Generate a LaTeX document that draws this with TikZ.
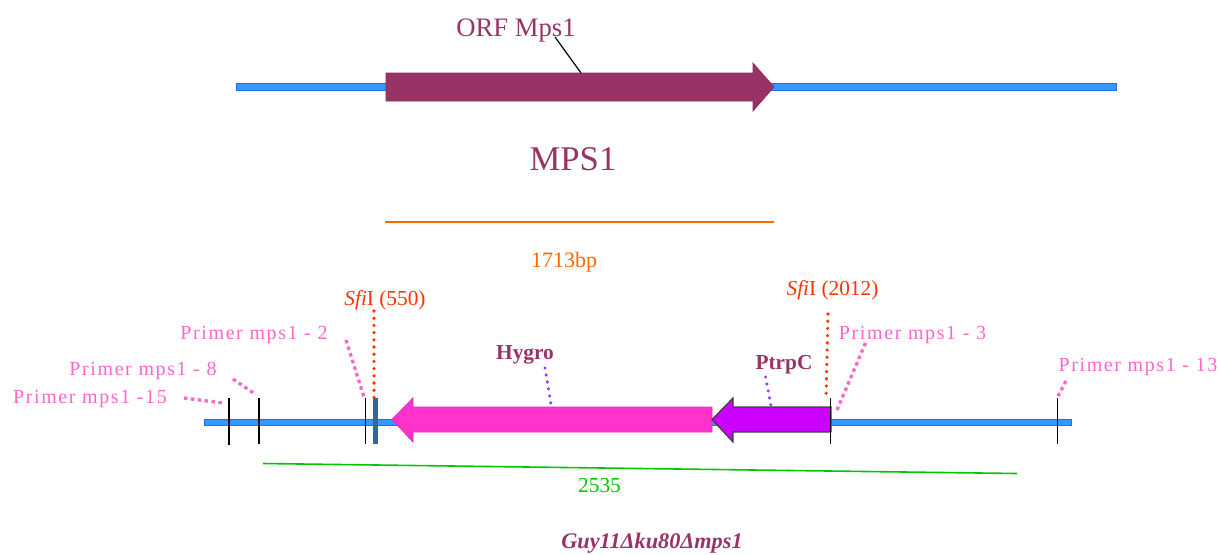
\documentclass[tikz,border=0pt]{standalone}
\usepackage{fontspec}
\usepackage{tikz}
\setmainfont{Liberation Serif}
\newfontfamily\spacedfont[LetterSpace=8]{Liberation Serif}
\definecolor{orfred}{HTML}{993366}
\definecolor{seqblue}{HTML}{3399FF}
\definecolor{seqedge}{HTML}{1F6FE0}
\definecolor{barblue}{HTML}{336699}
\definecolor{sizeorange}{HTML}{FF6600}
\definecolor{sizegreen}{HTML}{00C800}
\definecolor{siteorange}{HTML}{FF3300}
\definecolor{primerpink}{HTML}{FF66CC}
\definecolor{hygropink}{HTML}{FF33CC}
\definecolor{ptrpviolet}{HTML}{CC00FF}
\definecolor{dotviolet}{HTML}{9933FF}
\tikzset{
  seqline/.style={fill=seqblue, draw=seqedge, line width=0.6pt},
  primerlabel/.style={text=primerpink, font=\spacedfont\fontsize{15}{18}\selectfont},
  sitelabel/.style={text=siteorange, font=\fontsize{16}{18}\selectfont},
  genelabel/.style={text=orfred, font=\bfseries\fontsize{16}{18}\selectfont},
  primerdots/.style={primerpink, line width=2.5pt, dash pattern=on 2.6pt off 2.6pt},
  sitedots/.style={siteorange, line width=2.7pt, line cap=round, dash pattern=on 0pt off 5.4pt},
  genedots/.style={dotviolet, line width=2.6pt, line cap=round, dash pattern=on 0pt off 5.3pt},
  tickline/.style={black, line width=0.9pt}
}
\begin{document}
\begin{tikzpicture}[x=0.75pt, y=-0.75pt, every node/.style={inner sep=0pt, align=center}]
\useasboundingbox (0,0) rectangle (1221,554);
% upper construct
\fill[seqblue, draw=seqedge, line width=0.6pt] (236,83.5) rectangle (1116,90.5);
\draw[fill=orfred, draw=orfred!90!black, line width=0.5pt] (386,73) -- (753,73) -- (753,63) -- (774,87) -- (753,111) -- (753,101) -- (386,101) -- cycle;
\node[text=orfred, font=\fontsize{20}{24}\selectfont] (orf) at (516,30.5) {ORF Mps1};
\node[text=orfred, font=\fontsize{26}{30}\selectfont] (mps) at (573,159.5) {MPS1};
\coordinate (orfa) at (555,37); \coordinate (orfb) at (581,73);
\draw[black, line width=0.9pt] (orfa) -- (orfb);
\coordinate (spana) at (385,222); \coordinate (spanb) at (774,222);
\draw[sizeorange, line width=1.2pt] (spana) -- (spanb);
\node[text=sizeorange, font=\fontsize{16.5}{18}\selectfont] (len) at (564,262) {1713bp};
% lower construct
\draw[seqline] (204,419.5) rectangle (1071,425.5);
\fill[barblue] (373,398) rectangle (378,444);
\draw[fill=hygropink, draw=hygropink!90!black, line width=0.6pt] (712,407) -- (413,407) -- (413,398) -- (392,419.5) -- (413,442) -- (413,432) -- (712,432) -- cycle;
\draw[fill=ptrpviolet, draw=black!75, line width=0.9pt] (831,407) -- (733,407) -- (733,398) -- (712,419.5) -- (733,442) -- (733,432) -- (831,432) -- cycle;
\coordinate (t1a) at (229,398); \coordinate (t1b) at (229,445);
\coordinate (t2a) at (259,398); \coordinate (t2b) at (259,444);
\coordinate (t3a) at (365.5,398); \coordinate (t3b) at (365.5,444);
\coordinate (t4a) at (830.5,398); \coordinate (t4b) at (830.5,444);
\coordinate (t5a) at (1057.5,398); \coordinate (t5b) at (1057.5,444);
\foreach \a/\b in {t1a/t1b,t2a/t2b,t3a/t3b,t4a/t4b,t5a/t5b}
  \draw[tickline] (\a) -- (\b);
% labels
\node[primerlabel] (p15) at (90,399) {Primer mps1 -15};
\node[primerlabel] (p8) at (143,371) {Primer mps1 - 8};
\node[primerlabel] (p2) at (254,335) {Primer mps1 - 2};
\node[primerlabel] (p3) at (912.5,335) {Primer mps1 - 3};
\node[primerlabel] (p13) at (1138,367) {Primer mps1 - 13};
\node[sitelabel] (sfia) at (385,300) {\textit{Sfi}I (550)};
\node[sitelabel] (sfib) at (832.5,290) {\textit{Sfi}I (2012)};
\node[genelabel] (hyg) at (525,355) {Hygro};
\node[genelabel] (ptr) at (784,365) {PtrpC};
\node[text=sizegreen, font=\fontsize{16}{18}\selectfont] (gsize) at (599.5,486) {2535};
\node[text=orfred, font=\bfseries\itshape\fontsize{16.7}{20}\selectfont] (strain) at (652,543) {Guy11Δku80Δmps1};
% leaders
\coordinate (p15a) at (184,398); \coordinate (p15b) at (223,403);
\coordinate (p8a) at (233,379); \coordinate (p8b) at (255,394);
\coordinate (p2a) at (346,340); \coordinate (p2b) at (364,397);
\coordinate (p3a) at (865.5,343); \coordinate (p3b) at (837,410);
\coordinate (p13a) at (1066,381); \coordinate (p13b) at (1058,396);
\foreach \a/\b in {p15a/p15b,p8a/p8b,p2a/p2b,p3a/p3b,p13a/p13b}
  \draw[primerdots] (\a) -- (\b);
\coordinate (sa) at (374,311); \coordinate (sb) at (374,398);
\coordinate (sc) at (828,314); \coordinate (sd) at (826,400);
\foreach \a/\b in {sa/sb,sc/sd}
  \draw[sitedots] (\a) -- (\b);
\coordinate (ha) at (545,368); \coordinate (hb) at (551,404);
\coordinate (pa) at (765.5,377); \coordinate (pb) at (771,406);
\foreach \a/\b in {ha/hb,pa/pb}
  \draw[genedots] (\a) -- (\b);
\coordinate (ga) at (263,463.5); \coordinate (gb) at (1017,473.5);
\draw[sizegreen, line width=1.2pt] (ga) -- (gb);
\end{tikzpicture}
\end{document}
